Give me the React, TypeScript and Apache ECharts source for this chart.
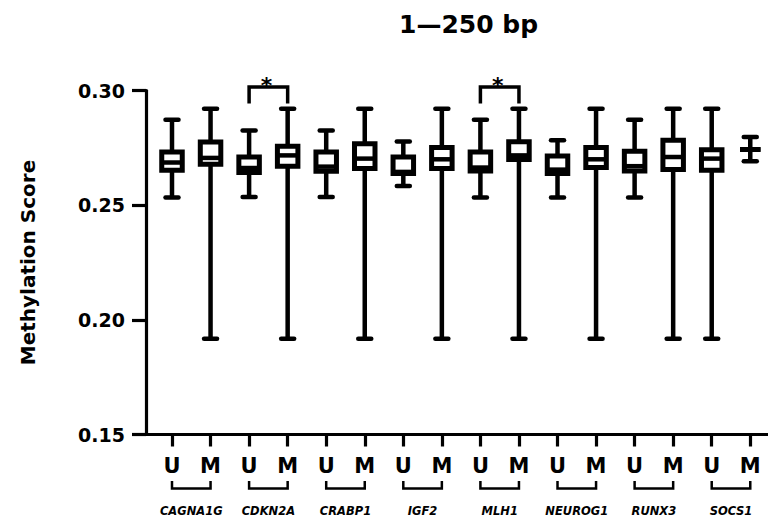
import { useEffect, useRef } from "react";
import * as echarts from "echarts";

const chartTitle = "1—250 bp";
const yAxisTitle = "Methylation Score";
const genes = ["CAGNA1G", "CDKN2A", "CRABP1", "IGF2", "MLH1", "NEUROG1", "RUNX3", "SOCS1"];
const groupLabels = ["U", "M", "U", "M", "U", "M", "U", "M", "U", "M", "U", "M", "U", "M", "U", "M"];
const whiskerLow = [0.2533, 0.1917, 0.2536, 0.1917, 0.2536, 0.1917, 0.2584, 0.1917, 0.2533, 0.1917, 0.2533, 0.1917, 0.2533, 0.1917, 0.1917, 0.2691];
const quartile1 = [0.2652, 0.2678, 0.2642, 0.267, 0.2648, 0.266, 0.2638, 0.266, 0.2649, 0.2699, 0.2638, 0.2664, 0.2649, 0.2655, 0.2652, 0.2743];
const medians = [0.2686, 0.2706, 0.2662, 0.2717, 0.2668, 0.2703, 0.2645, 0.27, 0.2664, 0.2717, 0.2655, 0.27, 0.267, 0.271, 0.2703, 0.2743];
const quartile3 = [0.2732, 0.2775, 0.271, 0.2757, 0.2732, 0.2768, 0.271, 0.2751, 0.2732, 0.2777, 0.2714, 0.2751, 0.2735, 0.2783, 0.2742, 0.2743];
const whiskerHigh = [0.2873, 0.292, 0.2826, 0.292, 0.2826, 0.292, 0.2778, 0.292, 0.2873, 0.292, 0.2783, 0.292, 0.2873, 0.292, 0.292, 0.2797];
const yMin = 0.15;
const yMax = 0.3;
const yStep = 0.05;
const significantPairs = [
  [2, 3],
  [8, 9],
];
const sigBracketTop = 0.3015;
const sigBracketLeg = 0.2943;
const sigSymbol = "*";

const FONT = "DejaVu Sans";
const X_MIN = -0.6744;
const X_MAX = 15.46;

export default function App() {
  const ref = useRef<HTMLDivElement>(null);

  useEffect(() => {
    const el = ref.current;
    if (!el) return;
    const chart = echarts.init(el, null, { renderer: "svg" });

    const positions = groupLabels.map((_, i) => i);
    const geneCenters = genes.map((_, g) => 2 * g + 0.5);
    const boxData = groupLabels.map((_, i) => [i, whiskerLow[i], quartile1[i], medians[i], quartile3[i], whiskerHigh[i]]);
    const pairData = genes.map((_, g) => [2 * g, 2 * g + 1, yMin]);
    const sigData = significantPairs.map(([a, b]) => [a, b, sigBracketTop, sigBracketLeg]);

    const black = "#000";

    const option: any = {
      animation: false,
      backgroundColor: "#fff",
      textStyle: { fontFamily: FONT },
      title: {
        text: chartTitle,
        left: 399,
        top: 11.5,
        padding: 0,
        textStyle: { fontFamily: FONT, fontSize: 25, fontWeight: "bold", color: black },
      },
      grid: { left: 146, right: 0, top: 90.5, bottom: 84.5 },
      xAxis: [
        {
          type: "value",
          min: X_MIN,
          max: X_MAX,
          axisLine: { show: true, onZero: false, lineStyle: { color: black, width: 3.2 } },
          splitLine: { show: false },
          axisTick: { show: true, customValues: positions, length: 12, lineStyle: { color: black, width: 3.2 } },
          axisLabel: {
            show: true,
            customValues: positions,
            formatter: (v: number) => groupLabels[Math.round(v)] ?? "",
            margin: 21,
            fontSize: 21,
            fontWeight: "bold",
            color: black,
            fontFamily: FONT,
          },
        },
        {
          type: "value",
          min: X_MIN,
          max: X_MAX,
          position: "bottom",
          axisLine: { show: false },
          axisTick: { show: false },
          splitLine: { show: false },
          axisLabel: {
            show: true,
            customValues: geneCenters,
            formatter: (v: number) => genes[Math.round((v - 0.5) / 2)] ?? "",
            margin: 70,
            fontSize: 11.5,
            fontWeight: "bold",
            fontStyle: "italic",
            color: black,
            fontFamily: FONT,
          },
        },
      ],
      yAxis: {
        type: "value",
        min: yMin,
        max: yMax,
        interval: yStep,
        name: yAxisTitle,
        nameLocation: "middle",
        nameGap: 108,
        nameRotate: 90,
        nameTextStyle: { fontFamily: FONT, fontSize: 20, fontWeight: "bold", color: black },
        axisLine: { show: true, onZero: false, lineStyle: { color: black, width: 3.2 } },
        axisTick: { show: true, length: 14, lineStyle: { color: black, width: 3.2 } },
        axisLabel: {
          formatter: (v: number) => v.toFixed(2),
          margin: 21,
          fontSize: 19,
          fontWeight: "bold",
          color: black,
          fontFamily: FONT,
        },
        splitLine: { show: false },
      },
      series: [
        {
          type: "custom",
          name: "boxes",
          xAxisIndex: 0,
          yAxisIndex: 0,
          clip: false,
          encode: { x: 0, y: [1, 2, 3, 4, 5] },
          data: boxData,
          renderItem: (_params: any, api: any) => {
            const x = api.value(0);
            const lo = api.coord([x, api.value(1)]);
            const q1 = api.coord([x, api.value(2)]);
            const md = api.coord([x, api.value(3)]);
            const q3 = api.coord([x, api.value(4)]);
            const hi = api.coord([x, api.value(5)]);
            const cx = lo[0];
            const halfBox = 10.25;
            const halfCap = 6.5;
            const lineStyle = { stroke: black, lineWidth: 4.5, fill: null };
            const capStyle = { stroke: black, lineWidth: 4.5, lineCap: "round", fill: null };
            return {
              type: "group",
              children: [
                { type: "line", shape: { x1: cx, y1: hi[1], x2: cx, y2: lo[1] }, style: lineStyle },
                { type: "line", shape: { x1: cx - halfCap, y1: hi[1], x2: cx + halfCap, y2: hi[1] }, style: capStyle },
                { type: "line", shape: { x1: cx - halfCap, y1: lo[1], x2: cx + halfCap, y2: lo[1] }, style: capStyle },
                {
                  type: "rect",
                  shape: { x: cx - halfBox, y: q3[1], width: halfBox * 2, height: q1[1] - q3[1] },
                  style: { fill: "#fff", stroke: black, lineWidth: 5 },
                },
                { type: "line", shape: { x1: cx - halfBox, y1: md[1], x2: cx + halfBox, y2: md[1] }, style: { stroke: black, lineWidth: 4.5 } },
              ],
            };
          },
        },
        {
          type: "custom",
          name: "pairs",
          xAxisIndex: 0,
          yAxisIndex: 0,
          clip: false,
          silent: true,
          encode: { x: [0, 1], y: 2 },
          data: pairData,
          renderItem: (_params: any, api: any) => {
            const a = api.coord([api.value(0), api.value(2)]);
            const b = api.coord([api.value(1), api.value(2)]);
            const top = a[1] + 46.5;
            const bot = a[1] + 54;
            return {
              type: "polyline",
              shape: { points: [[a[0], top], [a[0], bot], [b[0], bot], [b[0], top]] },
              style: { stroke: black, lineWidth: 2.5, fill: null },
            };
          },
        },
        {
          type: "custom",
          name: "significance",
          xAxisIndex: 0,
          yAxisIndex: 0,
          clip: false,
          silent: true,
          encode: { x: [0, 1], y: [2, 3] },
          data: sigData,
          renderItem: (_params: any, api: any) => {
            const aTop = api.coord([api.value(0), api.value(2)]);
            const bTop = api.coord([api.value(1), api.value(2)]);
            const aLeg = api.coord([api.value(0), api.value(3)]);
            const bLeg = api.coord([api.value(1), api.value(3)]);
            return {
              type: "group",
              children: [
                {
                  type: "polyline",
                  shape: { points: [[aLeg[0], aLeg[1]], [aTop[0], aTop[1]], [bTop[0], bTop[1]], [bLeg[0], bLeg[1]]] },
                  style: { stroke: black, lineWidth: 3.5, fill: null },
                },
                {
                  type: "text",
                  x: (aTop[0] + bTop[0]) / 2 - 2,
                  y: aTop[1] - 2,
                  style: {
                    text: sigSymbol,
                    fill: black,
                    font: `bold 22px '${FONT}'`,
                    align: "center",
                    verticalAlign: "middle",
                  },
                },
              ],
            };
          },
        },
      ],
    };

    chart.setOption(option);
    return () => {
      chart.dispose();
    };
  }, []);

  return <div ref={ref} style={{ position: "fixed", left: 0, top: 0, width: 768, height: 519, background: "#fff" }} />;
}
